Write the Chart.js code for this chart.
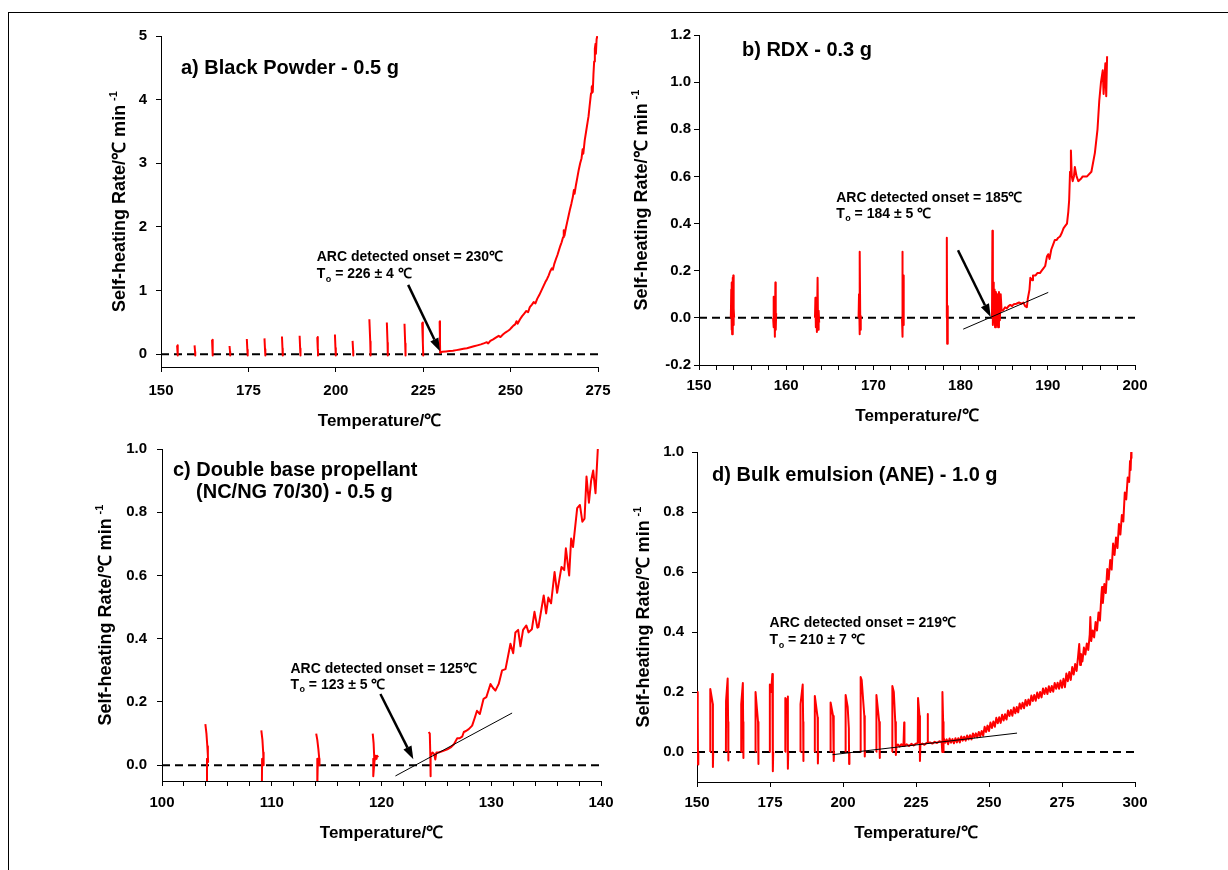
<!DOCTYPE html>
<html>
<head>
<meta charset="utf-8">
<title>ARC self-heating rate</title>
<script src="https://cdn.jsdelivr.net/npm/chart.js@4.4.1/dist/chart.umd.min.js"></script>
<style>
  html, body { margin: 0; padding: 0; background: #fff; }
  #page { position: relative; width: 1228px; height: 870px; overflow: hidden; background: #fff; }
  #page canvas { position: absolute; left: 0; top: 0; }
  #frame { position: absolute; left: 8px; top: 12px; width: 1300px; height: 900px; border: 1px solid #000; }
</style>
</head>
<body>
<div id="page">
  <div id="frame"></div>
  <canvas id="chart-a" width="1228" height="870"></canvas>
  <canvas id="chart-b" width="1228" height="870"></canvas>
  <canvas id="chart-c" width="1228" height="870"></canvas>
  <canvas id="chart-d" width="1228" height="870"></canvas>
</div>
<script>
// ---- data: [temperature (C), self-heating rate (C/min)], null = pen up ----

// a) Black powder
const aXTicks = [150, 175, 200, 225, 250, 275];
const aYTicks = [0, 1, 2, 3, 4, 5];
const aTrace = [
  [154.6, 0.14], [154.75, 0.04], [154.8, 0.0], [154.75, -0.02], [154.85, 0.0], null,
  [159.6, 0.14], [159.75, 0.04], [159.8, 0.0], [159.75, -0.02], [159.85, 0.0], null,
  [164.6, 0.23], [164.75, 0.07], [164.8, 0.0], [164.75, -0.02], [164.85, 0.0], null,
  [169.6, 0.13], [169.75, 0.04], [169.8, 0.0], [169.75, -0.02], [169.85, 0.0], null,
  [174.55, 0.24], [174.7, 0.07], [174.8, 0.0], [174.75, -0.02], [174.85, 0.0], null,
  [179.6, 0.25], [179.75, 0.08], [179.85, 0.0], [179.8, -0.02], [179.9, 0.0], null,
  [184.6, 0.28], [184.75, 0.09], [184.85, 0.0], [184.8, -0.02], [184.9, 0.0], null,
  [189.65, 0.29], [189.8, 0.09], [189.9, 0.0], [189.85, -0.02], [189.95, 0.0], null,
  [194.7, 0.27], [194.85, 0.08], [194.95, 0.0], [194.9, -0.02], [195.0, 0.0], null,
  [199.75, 0.31], [199.9, 0.1], [200.0, 0.0], [199.95, -0.02], [200.05, 0.0], null,
  [204.8, 0.21], [204.95, 0.06], [205.0, 0.0], [204.95, -0.02], [205.05, 0.0], null,
  [209.6, 0.55], [209.85, 0.2], [209.95, 0.0], [209.9, -0.02], [210.0, 0.0], null,
  [214.6, 0.50], [214.8, 0.18], [214.9, 0.0], [214.85, -0.02], [214.95, 0.0], null,
  [219.65, 0.48], [219.85, 0.17], [219.95, 0.0], [219.9, -0.02], [220.0, 0.0], null,
  [224.7, 0.50], [224.9, 0.18], [225.0, 0.0], [224.95, -0.02], [225.05, 0.0], null,
  [229.7, 0.52], [229.8, 0.2], [229.85, 0.02], [229.9, 0.03],
  [230.5, 0.04], [231.5, 0.045], [232.5, 0.05], [233.5, 0.055], [234.5, 0.065], [235.5, 0.075],
  [236.5, 0.085], [237.5, 0.095], [238.5, 0.11], [239.5, 0.125], [240.5, 0.14], [241.5, 0.155],
  [242.5, 0.175], [243.2, 0.19], [243.6, 0.17], [244.2, 0.21], [245.0, 0.235], [246.0, 0.27],
  [246.6, 0.29], [247.1, 0.27], [247.8, 0.31], [248.6, 0.345], [249.3, 0.37], [249.8, 0.39],
  [250.3, 0.42], [250.8, 0.45], [251.3, 0.47], [251.7, 0.52], [252.0, 0.48], [252.7, 0.55],
  [253.3, 0.6], [253.9, 0.64], [254.5, 0.68], [255.0, 0.66], [255.5, 0.74], [256.1, 0.78],
  [256.6, 0.82], [257.1, 0.8], [257.6, 0.87], [258.2, 0.93], [258.8, 1.0], [259.4, 1.07],
  [259.9, 1.13], [260.4, 1.18], [260.9, 1.24], [261.3, 1.3], [261.8, 1.35], [262.1, 1.33],
  [262.5, 1.42], [263.0, 1.5], [263.4, 1.56], [263.8, 1.63], [264.2, 1.7], [264.6, 1.76],
  [265.0, 1.84], [265.2, 1.95], [265.4, 1.86], [265.8, 1.98], [266.2, 2.08], [266.6, 2.18],
  [267.0, 2.28], [267.4, 2.37], [267.8, 2.47], [268.1, 2.58], [268.3, 2.52], [268.7, 2.66],
  [269.1, 2.78], [269.5, 2.9], [269.9, 3.0], [270.3, 3.08], [270.6, 3.22], [270.8, 3.15],
  [271.2, 3.36], [271.6, 3.5], [272.0, 3.64], [272.3, 3.74], [272.6, 3.9], [272.8, 4.0],
  [273.0, 4.1], [273.2, 4.2], [273.4, 4.22], [273.5, 4.12], [273.7, 4.4], [273.9, 4.6],
  [274.1, 4.8], [274.3, 4.88], [274.4, 4.72], [274.6, 4.95], [274.8, 5.0]
];

// b) RDX
const bXTicks = [150, 152, 154, 156, 158, 160, 162, 164, 166, 168, 170, 172, 174, 176, 178,
  180, 182, 184, 186, 188, 190, 192, 194, 196, 198, 200];
const bXLabels = [150, 160, 170, 180, 190, 200];
const bYTicks = [-0.2, 0.0, 0.2, 0.4, 0.6, 0.8, 1.0, 1.2];
const bTrace = [
  [153.65, 0.0], [153.7, 0.12], [153.72, -0.05], [153.78, 0.15], [153.8, -0.07], [153.86, 0.17],
  [153.88, -0.06], [153.93, 0.18], [153.95, -0.03], [154.0, 0.04], [154.03, 0.0], null,
  [158.5, 0.0], [158.55, 0.09], [158.58, -0.04], [158.65, 0.06], [158.7, -0.08], [158.76, 0.15],
  [158.8, -0.05], [158.85, 0.02], null,
  [163.3, 0.0], [163.35, 0.085], [163.4, -0.04], [163.48, 0.05], [163.52, -0.06], [163.6, 0.17],
  [163.65, -0.05], [163.72, 0.03], [163.78, -0.02], null,
  [168.3, 0.0], [168.35, 0.1], [168.4, -0.07], [168.46, 0.28], [168.5, -0.05], [168.55, 0.01], null,
  [173.28, 0.0], [173.32, 0.28], [173.36, -0.08], [173.4, 0.18], [173.45, -0.03], [173.5, 0.0], null,
  [178.38, 0.0], [178.42, 0.34], [178.46, -0.11], [178.5, 0.05], [178.55, -0.02], null,
  [183.6, 0.0], [183.65, 0.37], [183.7, -0.03], [183.75, 0.15], [183.8, -0.02], [183.9, 0.12],
  [183.95, -0.04], [184.05, 0.11], [184.1, -0.03], [184.2, 0.1], [184.3, -0.04], [184.4, 0.11],
  [184.5, -0.01], [184.6, 0.1], [184.7, 0.03], [184.9, 0.033], [185.1, 0.045], [185.3, 0.04],
  [185.5, 0.05], [185.7, 0.055], [185.9, 0.05], [186.1, 0.058], [186.4, 0.06], [186.7, 0.065],
  [187.0, 0.06], [187.2, 0.065], [187.4, 0.05], [187.6, 0.045], [187.7, 0.08], [187.9, 0.12],
  [188.0, 0.17], [188.2, 0.16], [188.3, 0.18], [188.6, 0.18], [188.8, 0.19], [189.1, 0.19],
  [189.3, 0.2], [189.5, 0.21], [189.7, 0.22], [189.9, 0.26], [190.05, 0.27], [190.2, 0.25],
  [190.4, 0.29], [190.6, 0.31], [190.8, 0.33], [191.0, 0.33], [191.2, 0.34], [191.4, 0.345],
  [191.6, 0.36], [191.8, 0.38], [192.0, 0.39], [192.2, 0.4], [192.35, 0.45], [192.45, 0.5],
  [192.55, 0.62], [192.65, 0.71], [192.75, 0.6], [192.85, 0.58], [193.0, 0.6], [193.1, 0.64],
  [193.3, 0.6], [193.5, 0.58], [193.8, 0.59], [194.0, 0.6], [194.5, 0.6], [195.0, 0.62],
  [195.4, 0.7], [195.7, 0.8], [195.9, 0.92], [196.1, 1.0], [196.3, 1.05], [196.4, 0.95],
  [196.6, 1.08], [196.7, 0.94], [196.8, 1.11]
];
const bTangent = [[180.3, -0.048], [190.05, 0.108]];

// c) Double base propellant
const cXTicks = [100, 102, 104, 106, 108, 110, 112, 114, 116, 118, 120, 122, 124, 126, 128,
  130, 132, 134, 136, 138, 140];
const cXLabels = [100, 110, 120, 130, 140];
const cYTicks = [0.0, 0.2, 0.4, 0.6, 0.8, 1.0];
const cTrace = [
  [103.95, 0.13], [104.05, 0.1], [104.13, 0.06], [104.18, 0.03], [104.2, 0.01], [104.1, 0.02], [104.1, -0.07], null,
  [109.05, 0.11], [109.15, 0.08], [109.22, 0.04], [109.27, 0.02], [109.25, 0.0], [109.12, 0.02], [109.1, -0.07], null,
  [114.05, 0.1], [114.15, 0.08], [114.25, 0.05], [114.33, 0.02], [114.35, 0.0], [114.2, 0.02], [114.15, -0.07], null,
  [119.2, 0.1], [119.28, 0.07], [119.33, 0.03], [119.35, 0.0], [119.25, 0.02], [119.25, -0.035],
  [119.35, 0.01], [119.45, 0.03], [119.55, 0.02], [119.6, 0.03], [119.7, 0.025], null,
  [124.3, 0.105], [124.4, 0.1], [124.45, 0.03], [124.45, -0.035], [124.5, 0.03], [124.65, 0.04],
  [124.8, 0.035], [124.9, 0.018], [125.0, 0.04], [125.2, 0.04], [125.45, 0.043], [125.7, 0.046],
  [126.0, 0.05], [126.3, 0.056], [126.6, 0.066], [126.9, 0.085], [127.1, 0.085], [127.35, 0.09],
  [127.5, 0.105], [127.7, 0.108], [127.95, 0.114], [128.26, 0.125], [128.5, 0.15], [128.7, 0.172],
  [128.96, 0.162], [129.3, 0.21], [129.55, 0.215], [129.93, 0.257], [130.15, 0.245], [130.38, 0.236],
  [130.68, 0.257], [130.99, 0.3], [131.3, 0.304], [131.75, 0.384], [132.0, 0.354], [132.2, 0.42],
  [132.45, 0.428], [132.66, 0.376], [132.9, 0.428], [133.2, 0.442], [133.4, 0.42], [133.7, 0.43],
  [133.94, 0.485], [134.2, 0.435], [134.3, 0.437], [134.78, 0.537], [135.0, 0.48], [135.2, 0.53],
  [135.45, 0.512], [135.77, 0.611], [136.0, 0.545], [136.4, 0.627], [136.65, 0.617], [136.8, 0.686],
  [137.1, 0.6], [137.28, 0.717], [137.45, 0.69], [137.83, 0.813], [138.08, 0.823], [138.3, 0.77],
  [138.5, 0.78], [138.68, 0.913], [138.9, 0.83], [139.1, 0.9], [139.29, 0.932], [139.5, 0.86],
  [139.71, 1.0]
];
const cTangent = [[121.27, -0.034], [131.9, 0.165]];

// d) Bulk emulsion
const dXTicks = [150, 175, 200, 225, 250, 275, 300];
const dYTicks = [0.0, 0.2, 0.4, 0.6, 0.8, 1.0];
const dTrace = [
  [150.1, 0.0], [150.2, 0.2], [150.3, 0.12], [150.35, -0.042], [150.45, 0.0], null,
  [154.5, 0.0], [154.55, 0.21], [155.4, 0.16], [155.45, -0.05], [155.55, 0.0], null,
  [159.9, 0.0], [159.95, 0.17], [160.5, 0.245], [160.65, 0.1], [160.7, -0.028], [160.8, 0.0], null,
  [165.1, 0.0], [165.15, 0.16], [165.7, 0.23], [165.8, 0.1], [165.85, -0.02], [165.95, 0.0], null,
  [170.0, 0.0], [170.05, 0.2], [170.9, 0.1], [171.0, -0.04], [171.1, 0.0], null,
  [174.9, 0.0], [174.95, 0.225], [175.4, 0.2], [175.8, 0.26], [175.95, 0.1], [176.0, -0.064], [176.1, 0.0], null,
  [180.2, 0.0], [180.25, 0.18], [180.9, 0.17], [181.1, 0.185], [181.15, -0.056], [181.25, 0.0], null,
  [185.4, 0.0], [185.45, 0.16], [186.2, 0.225], [186.35, 0.1], [186.4, -0.03], [186.5, 0.0], null,
  [190.3, 0.0], [190.35, 0.187], [191.3, 0.115], [191.4, -0.038], [191.5, 0.0], null,
  [195.7, 0.0], [195.75, 0.165], [196.6, 0.12], [196.8, 0.09], [196.85, -0.03], [196.95, 0.0], null,
  [200.85, 0.0], [200.9, 0.19], [201.6, 0.15], [202.0, 0.08], [202.1, -0.04], [202.2, 0.0], null,
  [206.0, 0.0], [206.05, 0.25], [206.4, 0.24], [207.3, 0.12], [207.45, -0.015], [207.55, 0.005], null,
  [211.4, 0.0], [211.45, 0.19], [212.4, 0.1], [212.55, -0.02], [212.65, 0.01], null,
  [216.8, 0.0], [216.9, 0.22], [217.4, 0.2], [217.9, 0.1], [218.1, -0.01], [218.3, 0.02],
  [218.8, 0.025], [219.4, 0.018], [220.0, 0.026], [220.7, 0.02], [220.95, 0.098], [221.05, 0.02],
  [221.8, 0.026], [222.6, 0.02], [223.4, 0.027], [224.2, 0.022], [225.0, 0.028], [225.6, 0.03],
  [225.7, 0.18], [226.2, 0.12], [226.35, -0.03], [226.5, 0.025], [227.2, 0.028], [227.9, 0.024],
  [228.6, 0.03], [228.9, 0.03], [229.0, 0.127], [229.1, 0.03], [229.8, 0.032], [230.6, 0.028],
  [231.4, 0.034], [232.2, 0.03], [233.0, 0.036], [233.8, 0.033],
  [234.0, 0.0], [234.05, 0.2], [234.3, 0.1], [234.35, 0.0], [234.45, 0.04],
  [234.5, 0.048], [235.0, 0.031], [235.5, 0.042], [236.0, 0.026], [236.5, 0.045], [237.0, 0.031],
  [237.5, 0.043], [238.0, 0.029], [238.5, 0.046], [239.0, 0.032], [239.5, 0.046], [240.0, 0.032],
  [240.5, 0.052], [241.0, 0.038], [241.5, 0.051], [242.0, 0.038], [242.5, 0.055], [243.0, 0.042],
  [243.5, 0.056], [244.0, 0.042], [244.5, 0.062], [245.0, 0.049], [245.5, 0.062], [246.0, 0.049],
  [246.5, 0.067], [247.0, 0.053], [247.5, 0.070], [248.0, 0.054], [248.5, 0.084], [249.0, 0.067],
  [249.5, 0.088], [250.0, 0.070], [250.5, 0.098], [251.0, 0.080], [251.5, 0.102], [252.0, 0.084],
  [252.5, 0.114], [253.0, 0.096], [253.5, 0.116], [254.0, 0.097], [254.5, 0.124], [255.0, 0.105],
  [255.5, 0.126], [256.0, 0.108], [256.5, 0.138], [257.0, 0.120], [257.5, 0.140], [258.0, 0.121],
  [258.5, 0.148], [259.0, 0.129], [259.5, 0.150], [260.0, 0.132], [260.5, 0.162], [261.0, 0.144],
  [261.5, 0.164], [262.0, 0.146], [262.5, 0.173], [263.0, 0.154], [263.5, 0.175], [264.0, 0.157],
  [264.5, 0.188], [265.0, 0.170], [265.5, 0.190], [266.0, 0.171], [266.5, 0.198], [267.0, 0.179],
  [267.5, 0.200], [268.0, 0.182], [268.5, 0.212], [269.0, 0.193], [269.5, 0.213], [270.0, 0.193],
  [270.5, 0.219], [271.0, 0.200], [271.5, 0.220], [272.0, 0.201], [272.5, 0.230], [273.0, 0.211],
  [273.5, 0.231], [274.0, 0.211], [274.5, 0.238], [275.0, 0.214], [275.5, 0.244], [276.0, 0.216],
  [276.5, 0.262], [277.0, 0.236], [277.5, 0.267], [278.0, 0.240], [278.5, 0.283], [279.0, 0.258],
  [279.5, 0.293], [280.0, 0.270], [280.5, 0.318], [280.9, 0.36], [281.2, 0.29], [281.5, 0.327],
  [282.0, 0.302], [282.5, 0.348], [283.0, 0.325], [283.5, 0.362], [284.0, 0.340], [284.5, 0.391],
  [284.7, 0.45], [285.0, 0.37], [285.5, 0.405], [286.0, 0.382], [286.5, 0.433], [287.0, 0.405],
  [287.5, 0.465], [288.0, 0.438], [288.5, 0.525], [288.7, 0.55], [289.0, 0.497], [289.5, 0.56],
  [290.0, 0.53], [290.5, 0.61], [291.0, 0.575], [291.5, 0.64], [292.0, 0.608], [292.5, 0.695],
  [293.0, 0.657], [293.5, 0.715], [294.0, 0.68], [294.5, 0.76], [295.0, 0.725], [295.5, 0.79],
  [296.0, 0.768], [296.5, 0.865], [297.0, 0.842], [297.5, 0.915], [298.0, 0.90], [298.3, 0.97],
  [298.5, 0.94], [298.7, 1.0], [298.8, 0.98]
];
const dTangent = [[196.4, -0.009], [259.6, 0.063]];

// ---- text ----
const X_TITLE = 'Temperature/℃';
const Y_TITLE = 'Self-heating Rate/℃ min';
const Y_TITLE_SUP = '-1';
const FONT = 'Arial, "Liberation Sans", Helvetica, sans-serif';

Chart.defaults.font.family = FONT;
Chart.defaults.color = '#000';

function toPoints(pairs) {
  let lastX = null;
  return pairs.map(p => {
    if (!p) return { x: lastX, y: null };
    lastX = p[0];
    return { x: p[0], y: p[1] };
  });
}

function drawArrow(ctx, x1, y1, x2, y2) {
  const ang = Math.atan2(y2 - y1, x2 - x1);
  const head = 13, half = 4.5;
  const bx = x2 - head * Math.cos(ang), by = y2 - head * Math.sin(ang);
  ctx.strokeStyle = '#000';
  ctx.lineWidth = 2.5;
  ctx.beginPath();
  ctx.moveTo(x1, y1);
  ctx.lineTo(bx, by);
  ctx.stroke();
  ctx.beginPath();
  ctx.moveTo(x2, y2);
  ctx.lineTo(bx + half * Math.sin(ang), by - half * Math.cos(ang));
  ctx.lineTo(bx - half * Math.sin(ang), by + half * Math.cos(ang));
  ctx.closePath();
  ctx.fill();
}

// titles, onset notes, arrow and the y title with its superscript
function textPlugin(p) {
  return {
    id: 'panelText',
    afterDatasetsDraw(chart) {
      const { ctx } = chart;
      const xs = chart.scales.x, ys = chart.scales.y;
      const px = v => xs.getPixelForValue(v), py = v => ys.getPixelForValue(v);
      ctx.save();
      ctx.fillStyle = '#000';
      ctx.textBaseline = 'alphabetic';
      ctx.textAlign = 'left';

      ctx.font = 'bold 20px ' + FONT;
      p.title.forEach((t, i) => ctx.fillText(t, px(p.titleAt[i][0]), py(p.titleAt[i][1])));

      const nx = px(p.noteAt[0][0]);
      ctx.font = 'bold 14px ' + FONT;
      ctx.fillText(p.onset, nx, py(p.noteAt[0][1]));
      const ny = py(p.noteAt[1][1]);
      ctx.fillText('T', nx, ny);
      const wT = ctx.measureText('T').width;
      ctx.font = 'bold 9px ' + FONT;
      ctx.fillText('o', nx + wT + 0.5, ny + 3.5);
      const wo = ctx.measureText('o').width;
      ctx.font = 'bold 14px ' + FONT;
      ctx.fillText(p.range, nx + wT + 0.5 + wo, ny);

      if (p.arrow) {
        drawArrow(ctx, px(p.arrow[0][0]), py(p.arrow[0][1]), px(p.arrow[1][0]), py(p.arrow[1][1]));
      }

      const cy = (ys.top + ys.bottom) / 2;
      ctx.translate(p.yTitleX, cy);
      ctx.rotate(-Math.PI / 2);
      ctx.font = 'bold 18px ' + FONT;
      const w1 = ctx.measureText(Y_TITLE).width;
      ctx.font = 'bold 11px ' + FONT;
      const w2 = ctx.measureText(Y_TITLE_SUP).width;
      const start = -(w1 + 4 + w2) / 2;
      ctx.font = 'bold 18px ' + FONT;
      ctx.fillText(Y_TITLE, start, 0);
      ctx.font = 'bold 11px ' + FONT;
      ctx.fillText(Y_TITLE_SUP, start + w1 + 4, -8);
      ctx.restore();
    }
  };
}

function buildChart(p) {
  const Y_BOX = 60;
  const majors = p.xLabels || p.xTicks;
  return new Chart(document.getElementById(p.canvas), {
    type: 'line',
    data: {
      datasets: [
        { data: toPoints(p.tangent || []), borderColor: '#000', borderWidth: 1 },
        { data: toPoints(p.trace), borderColor: '#ff0000', borderWidth: 2, borderJoinStyle: 'round' },
        { data: toPoints([[p.xRange[0], 0], [p.xRange[1], 0]]), borderColor: '#000', borderWidth: 2, borderDash: [8, 5] }
      ]
    },
    options: {
      responsive: false,
      animation: false,
      devicePixelRatio: 1,
      elements: { point: { radius: 0 }, line: { tension: 0, fill: false } },
      layout: {
        padding: {
          left: p.area.left - Y_BOX,
          top: p.area.top,
          right: 1228 - p.area.right,
          bottom: 870 - p.area.bottom - p.xBox
        }
      },
      plugins: { legend: { display: false }, tooltip: { enabled: false } },
      scales: {
        x: {
          type: 'linear',
          min: p.xRange[0],
          max: p.xRange[1],
          afterBuildTicks: s => { s.ticks = p.xTicks.map(v => ({ value: v })); },
          afterFit: s => { s.height = p.xBox; },
          ticks: {
            autoSkip: false, maxRotation: 0, padding: p.xPad,
            font: { size: 15, weight: 'bold' }, color: '#000',
            callback: v => majors.includes(v) ? String(v) : ''
          },
          grid: { drawOnChartArea: false, drawTicks: true, tickLength: 5, tickColor: '#000' },
          border: { color: '#000', width: 1 },
          title: { display: true, text: X_TITLE, font: { size: 17, weight: 'bold' }, color: '#000', padding: 0 }
        },
        y: {
          type: 'linear',
          min: p.yRange[0],
          max: p.yRange[1],
          afterBuildTicks: s => { s.ticks = p.yTicks.map(v => ({ value: v })); },
          afterFit: s => { s.width = Y_BOX; },
          ticks: {
            autoSkip: false, padding: p.yPad,
            font: { size: 15, weight: 'bold' }, color: '#000',
            callback: v => v.toFixed(p.yDigits)
          },
          grid: { drawOnChartArea: false, drawTicks: true, tickLength: 5, tickColor: '#000' },
          border: { color: '#000', width: 1 }
        }
      }
    },
    plugins: [textPlugin(p)]
  });
}

buildChart({
  canvas: 'chart-a', trace: aTrace, xTicks: aXTicks, yTicks: aYTicks, yDigits: 0,
  xRange: [150, 275], yRange: [-0.2, 5],
  area: { left: 161, top: 36, right: 598, bottom: 367 }, xBox: 65, xPad: 10, yPad: 9, yTitleX: 124.5,
  title: ['a) Black Powder - 0.5 g'], titleAt: [[155.72, 4.41]],
  onset: 'ARC detected onset = 230℃', range: ' = 226 ± 4 ℃', noteAt: [[194.54, 1.473], [194.54, 1.197]],
  arrow: [[220.7, 1.09], [229.8, 0.047]]
});

buildChart({
  canvas: 'chart-b', trace: bTrace, tangent: bTangent, xTicks: bXTicks, xLabels: bXLabels, yTicks: bYTicks, yDigits: 1,
  xRange: [150, 200], yRange: [-0.2, 1.2],
  area: { left: 699, top: 35, right: 1135, bottom: 365 }, xBox: 62, xPad: 7, yPad: 3, yTitleX: 646.5,
  title: ['b) RDX - 0.3 g'], titleAt: [[154.93, 1.109]],
  onset: 'ARC detected onset = 185℃', range: ' = 184 ± 5 ℃', noteAt: [[165.73, 0.4915], [165.73, 0.425]],
  arrow: [[179.7, 0.287], [183.45, 0.004]]
});

buildChart({
  canvas: 'chart-c', trace: cTrace, tangent: cTangent, xTicks: cXTicks, xLabels: cXLabels, yTicks: cYTicks, yDigits: 1,
  xRange: [100, 140], yRange: [-0.05, 1.0],
  area: { left: 162, top: 449, right: 601, bottom: 781 }, xBox: 63, xPad: 8, yPad: 10, yTitleX: 111,
  title: ['c) Double base propellant', '(NC/NG 70/30) - 0.5 g'], titleAt: [[101.0, 0.915], [103.1, 0.844]],
  onset: 'ARC detected onset = 125℃', range: ' = 123 ± 5 ℃', noteAt: [[111.7, 0.291], [111.7, 0.241]],
  arrow: [[119.9, 0.225], [122.9, 0.019]]
});

buildChart({
  canvas: 'chart-d', trace: dTrace, tangent: dTangent, xTicks: dXTicks, yTicks: dYTicks, yDigits: 1,
  xRange: [150, 300], yRange: [-0.1, 1.0],
  area: { left: 697, top: 452, right: 1135, bottom: 782 }, xBox: 62, xPad: 7, yPad: 8, yTitleX: 649,
  title: ['d) Bulk emulsion (ANE) - 1.0 g'], titleAt: [[155.14, 0.9035]],
  onset: 'ARC detected onset = 219℃', range: ' = 210 ± 7 ℃', noteAt: [[174.86, 0.416], [174.86, 0.36]]
});
</script>
</body>
</html>
